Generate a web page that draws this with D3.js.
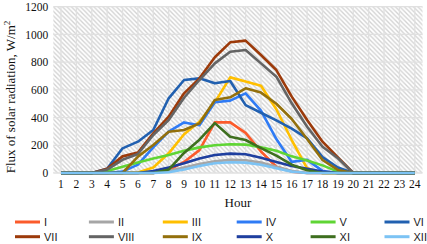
<!DOCTYPE html>
<html>
<head>
<meta charset="utf-8">
<script src="https://cdn.jsdelivr.net/npm/d3@7"></script>
<style>
  body { margin: 0; background: #fff; }
  svg { display: block; }
</style>
</head>
<body>
<svg id="chart" width="427" height="244"></svg>
<script>
var hours = d3.range(1, 25).map(String);
var yTicks = [0, 200, 400, 600, 800, 1000, 1200];
var months = ["I", "II", "III", "IV", "V", "VI", "VII", "VIII", "IX", "X", "XI", "XII"];

// monthly hourly flux, W/m2, hours 1..24
var fluxI    = [0,0,0,0,0,0,0,20,80,165,365,365,290,155,45,10,0,0,0,0,0,0,0,0];
var fluxII   = [0,0,0,0,0,0,0,15,40,65,85,95,92,75,45,15,0,0,0,0,0,0,0,0];
var fluxIII  = [0,0,0,0,0,3,40,142,280,370,510,690,660,630,460,238,34,0,0,0,0,0,0,0];
var fluxIV   = [0,0,0,0,10,60,185,298,365,345,510,522,575,450,245,80,95,15,0,0,0,0,0,0];
var fluxV    = [0,0,0,15,45,75,105,130,160,185,200,207,205,185,160,120,90,55,10,0,0,0,0,0];
var fluxVI   = [0,0,0,30,178,226,310,539,671,683,647,664,490,435,380,320,250,115,40,0,0,0,0,0];
var fluxVII  = [0,0,0,30,120,147,286,406,575,683,835,943,955,851,743,551,382,226,113,0,0,0,0,0];
var fluxVIII = [0,0,0,25,95,137,274,382,543,671,791,875,888,791,695,503,334,190,106,0,0,0,0,0];
var fluxIX   = [0,0,0,0,0,118,202,298,310,358,527,546,611,580,500,390,245,94,22,0,0,0,0,0];
var fluxX    = [0,0,0,0,0,0,15,40,70,105,130,140,135,110,80,50,30,10,0,0,0,0,0,0];
var fluxXI   = [0,0,0,0,0,0,0,25,145,240,360,262,238,180,125,60,20,0,0,0,0,0,0,0];
var fluxXII  = [0,0,0,0,0,0,0,5,25,50,70,78,75,60,35,10,0,0,0,0,0,0,0,0];

var colors = ["#fb5b2b", "#a6a6a6", "#ffbf00", "#2f7bf5", "#5fd534", "#2160b0",
              "#9c3a0a", "#646464", "#93700c", "#1f3f9f", "#3e6f1f", "#7cc3f4"];

var series = [fluxI, fluxII, fluxIII, fluxIV, fluxV, fluxVI,
              fluxVII, fluxVIII, fluxIX, fluxX, fluxXI, fluxXII].map(function(v, i) {
  return { name: months[i], color: colors[i], values: v };
});

var serif = "'Liberation Serif', 'Times New Roman', serif";

var margin = {top: 6.7, right: 4.5, bottom: 71, left: 53.3}
  , width = 427 - margin.left - margin.right
  , height = 244 - margin.top - margin.bottom;

var svg = d3.select("#chart");

var defs = svg.append("defs");
var pat = defs.append("pattern")
    .attr("id", "hatch")
    .attr("patternUnits", "userSpaceOnUse")
    .attr("width", 4.5)
    .attr("height", 4.5);
pat.append("rect").attr("width", 4.5).attr("height", 4.5).attr("fill", "#fff");
pat.append("path")
    .attr("d", "M-1,-1 L5.5,5.5 M-1,3.5 L1,5.5 M3.5,-1 L5.5,1")
    .attr("stroke", "#d2d2d2")
    .attr("stroke-width", 1.3);

var g = svg.append("g")
    .attr("transform", "translate(" + margin.left + "," + margin.top + ")");

var x = d3.scaleBand()
    .domain(hours)
    .range([0, width]);

var y = d3.scaleLinear()
    .domain([0, 1200])
    .range([height, 0]);

function cx(h) { return x(h) + x.bandwidth() / 2; }

g.append("rect")
    .attr("width", width)
    .attr("height", height)
    .attr("fill", "url(#hatch)");

// gridlines
g.selectAll(".hgrid")
    .data(yTicks)
  .enter().append("line")
    .attr("class", "hgrid")
    .attr("x1", 0).attr("x2", width)
    .attr("y1", function(d) { return y(d); })
    .attr("y2", function(d) { return y(d); })
    .attr("stroke", "#e0e0e0")
    .attr("stroke-width", 1.3);

g.selectAll(".vgrid")
    .data(hours)
  .enter().append("line")
    .attr("class", "vgrid")
    .attr("x1", function(d) { return cx(d); })
    .attr("x2", function(d) { return cx(d); })
    .attr("y1", 0).attr("y2", height)
    .attr("stroke", "#e0e0e0")
    .attr("stroke-width", 1.3);

// axes
var yAxis = g.append("g")
    .attr("font-family", serif)
    .call(d3.axisLeft(y).tickValues(yTicks).tickFormat(d3.format("d")).tickSize(0).tickPadding(5));
yAxis.attr("font-family", serif).attr("font-size", 11.5);
yAxis.select(".domain").remove();
yAxis.selectAll("text").attr("fill", "#111");

var xAxis = g.append("g")
    .attr("transform", "translate(0," + height + ")")
    .call(d3.axisBottom(x).tickSize(0).tickPadding(7));
xAxis.attr("font-family", serif).attr("font-size", 11.5);
xAxis.select(".domain").remove();
xAxis.selectAll("text").attr("fill", "#111");

// lines
var line = d3.line()
    .x(function(d, i) { return cx(hours[i]); })
    .y(function(d) { return y(d); });

g.selectAll(".series")
    .data(series)
  .enter().append("path")
    .attr("class", "series")
    .attr("d", function(d) { return line(d.values); })
    .attr("fill", "none")
    .attr("stroke", function(d) { return d.color; })
    .attr("stroke-width", 2.6)
    .attr("stroke-linejoin", "round");

// titles
svg.append("text")
    .attr("x", margin.left + width / 2)
    .attr("y", 207)
    .attr("text-anchor", "middle")
    .attr("font-family", serif)
    .attr("font-size", 13)
    .attr("fill", "#111")
    .text("Hour");

var yt = svg.append("text")
    .attr("transform", "translate(15," + 97 + ") rotate(-90)")
    .attr("text-anchor", "middle")
    .attr("font-family", serif)
    .attr("font-size", 13)
    .attr("fill", "#111");
yt.append("tspan").text("Flux of solar radiation, W/m");
yt.append("tspan").attr("dy", -5).attr("font-size", 9).text("2");

// legend
var legend = svg.append("g");
var item = legend.selectAll(".item")
    .data(series)
  .enter().append("g")
    .attr("class", "item")
    .attr("transform", function(d, i) {
      return "translate(" + (15 + (i % 6) * 73.9) + "," + (222 + Math.floor(i / 6) * 14.7) + ")";
    });
item.append("line")
    .attr("x1", 0).attr("x2", 25)
    .attr("stroke", function(d) { return d.color; })
    .attr("stroke-width", 3);
item.append("text")
    .attr("x", 29)
    .attr("dy", "0.35em")
    .attr("font-family", "'Liberation Sans', Arial, sans-serif")
    .attr("font-size", 11)
    .attr("fill", "#222")
    .text(function(d) { return d.name; });
</script>
</body>
</html>
